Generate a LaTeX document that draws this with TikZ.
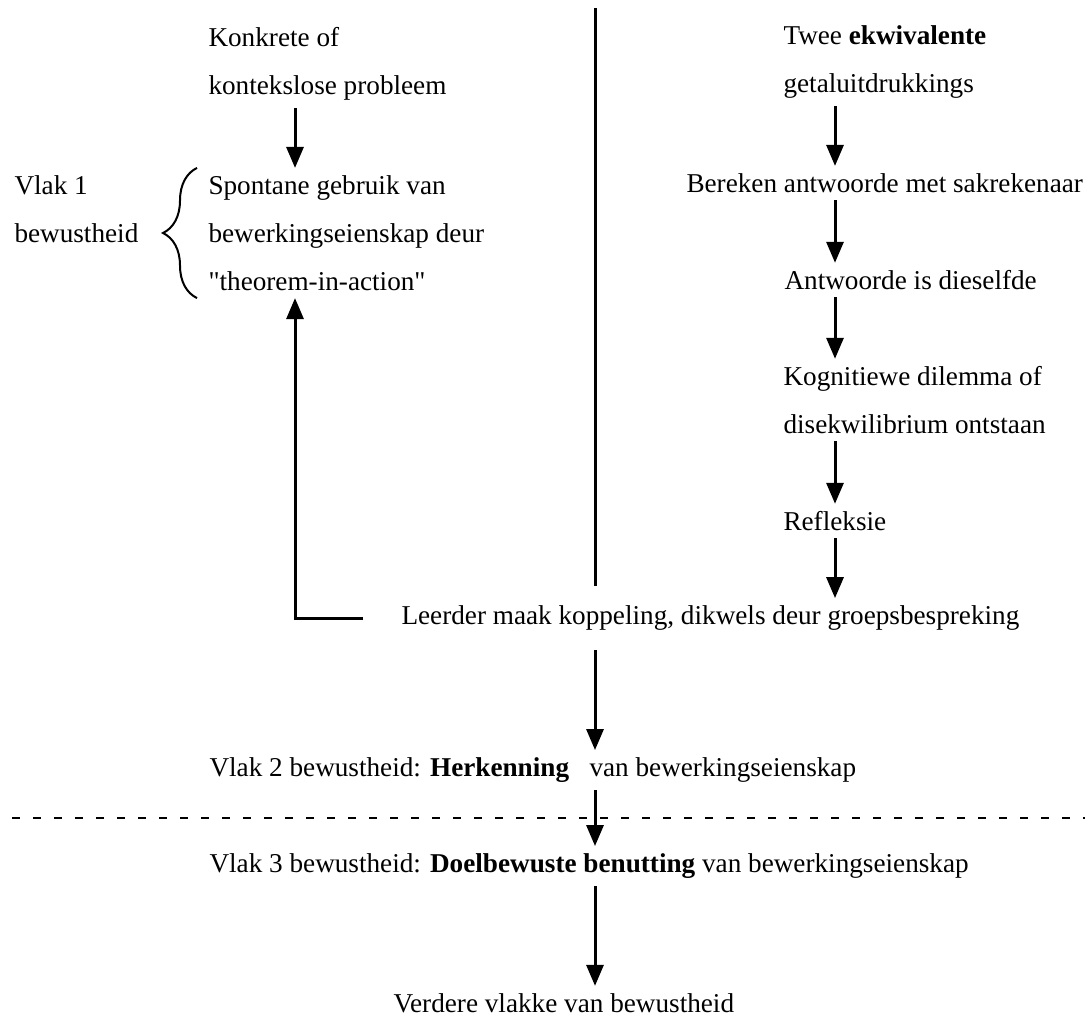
\documentclass[tikz,border=0pt]{standalone}
\usepackage{fontspec}
\setmainfont{Liberation Serif}[Ligatures=TeXOff]
\usetikzlibrary{arrows.meta,decorations.pathreplacing}

\begin{document}
\begin{tikzpicture}[x=0.5pt, y=-0.5pt, line width=1.5pt,
                    >={Triangle[length=10.5pt,width=8.5pt]}]
\tikzstyle{every node}=[font=\fontsize{13.6}{24}\selectfont, anchor=west,
                        align=left, inner xsep=0pt, inner ysep=3pt]
\useasboundingbox (0,0) rectangle (1085,1017);

% kolomme
\coordinate (lc) at (295,0);
\coordinate (mc) at (595,8);
\coordinate (rc) at (835,0);
\coordinate (dl) at (12,818);
\coordinate (dr) at (1085,818);

\node (vlak1) at (13,209) {Vlak 1\\bewustheid};
\node (konk) at (207,64) {Konkrete of\\kontekslose probleem};
\node (spon) at (207,233) {Spontane gebruik van\\bewerkingseienskap deur\\"theorem-in-action"};

\node (twee) at (782,62) {Twee \textbf{ekwivalente}\\getaluitdrukkings};
\node (bere) at (685,183) {Bereken antwoorde met sakrekenaar};
\node (antw) at (783,280) {Antwoorde is dieselfde};
\node (kogn) at (782,400) {Kognitiewe dilemma of\\disekwilibrium ontstaan};
\node (refl) at (782,521) {Refleksie};

\node (leer) at (400,618) {Leerder maak koppeling, dikwels deur groepsbespreking};
\node (vlak2) at (208,770) {Vlak 2 bewustheid: \textbf{Herkenning}\hspace{0.5em} van bewerkingseienskap};
\node (vlak3) at (208,866) {Vlak 3 bewustheid: \textbf{Doelbewuste benutting} van bewerkingseienskap};
\node (verd) at (392,1003) {Verdere vlakke van bewustheid};

% linkerkant
\path[->] (konk.south -| lc) edge (spon.north -| lc);
\draw[line width=1pt, decorate, decoration={brace, amplitude=17pt}]
  ([xshift=-5pt]spon.south west) -- ([xshift=-5pt]spon.north west);
\draw[->, shorten <=18.5pt] (leer.west) -| (spon.south -| lc);

% regterkant
\path[->] (twee.south -| rc) edge (bere.north -| rc);
\path[->] (bere.south -| rc) edge (antw.north -| rc);
\path[->] (antw.south -| rc) edge (kogn.north -| rc);
\path[->] (kogn.south -| rc) edge (refl.north -| rc);
\path[->] (refl.south -| rc) edge (leer.north -| rc);

% middel
\draw[shorten >=6pt] (mc) -- (leer.north -| mc);
\path[->, shorten <=6pt] (leer.south -| mc) edge (vlak2.north -| mc);
\path[->] (vlak2.south -| mc) edge (vlak3.north -| mc);
\path[->] (vlak3.south -| mc) edge (verd.north -| mc);

\draw[line width=1pt, dash pattern=on 4pt off 6.5pt] (dl) -- (dr);
\end{tikzpicture}
\end{document}
